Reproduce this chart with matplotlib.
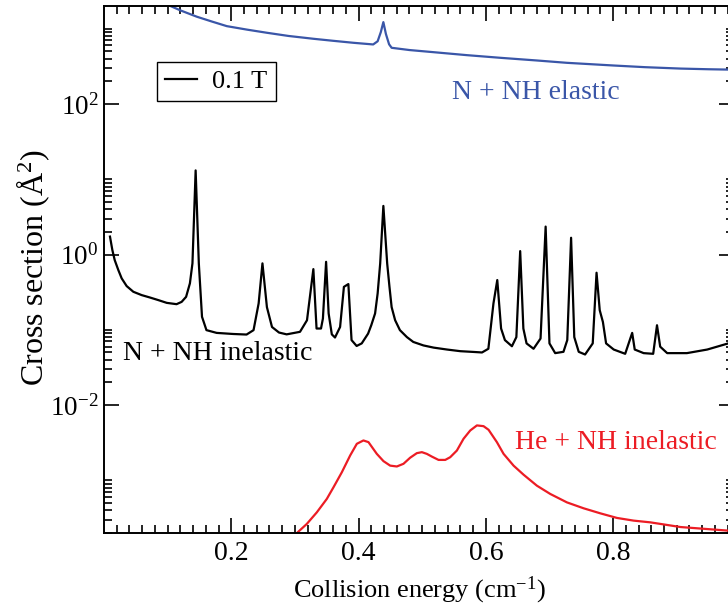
import numpy as np
import matplotlib
matplotlib.use("Agg")
import matplotlib.pyplot as plt
from matplotlib.ticker import FixedLocator, NullFormatter, FixedFormatter

plt.rcParams['font.family'] = ['Liberation Serif', 'DejaVu Serif']
plt.rcParams['mathtext.fontset'] = 'custom'
plt.rcParams['mathtext.rm'] = 'Liberation Serif'
plt.rcParams['mathtext.it'] = 'Liberation Serif:italic'

# ---------------- data ----------------
elastic_x = [0.080, 0.0986, 0.120, 0.146, 0.170, 0.193, 0.225, 0.256, 0.290, 0.329,
             0.360, 0.392, 0.423, 0.430, 0.435, 0.439, 0.443, 0.448, 0.452, 0.480,
             0.518, 0.570, 0.623, 0.680, 0.727, 0.801, 0.850, 0.906, 0.950, 0.981, 0.99]
elastic_y = [2420, 2100, 1750, 1440, 1240, 1080, 970, 882, 800, 734,
             690, 649, 617, 680, 900, 1222, 850, 620, 557, 520,
             487, 445, 410, 378, 352, 324, 308, 295, 289, 286, 284]

inel_x = [0.0094, 0.0131, 0.0168, 0.0225, 0.0278, 0.0356, 0.0461, 0.0592, 0.0719, 0.0854,
          0.0986, 0.114, 0.122, 0.129, 0.135, 0.139, 0.144, 0.149, 0.154, 0.161,
          0.177, 0.203, 0.224, 0.235, 0.243, 0.249, 0.256, 0.264, 0.275, 0.287,
          0.308, 0.319, 0.329, 0.334, 0.341, 0.344, 0.349, 0.353, 0.358, 0.363,
          0.371, 0.377, 0.384, 0.389, 0.397, 0.405, 0.415, 0.420, 0.426, 0.430,
          0.434, 0.439, 0.445, 0.4486, 0.452, 0.4575, 0.465, 0.476, 0.486, 0.502,
          0.518, 0.539, 0.560, 0.581, 0.594, 0.604, 0.612, 0.618, 0.624, 0.630,
          0.641, 0.648, 0.654, 0.659, 0.664, 0.675, 0.686, 0.694, 0.700, 0.709,
          0.722, 0.728, 0.734, 0.739, 0.746, 0.756, 0.768, 0.774, 0.779, 0.784,
          0.789, 0.801, 0.819, 0.830, 0.834, 0.848, 0.863, 0.869, 0.874, 0.885,
          0.916, 0.948, 0.981, 0.99]
inel_y = [1.73, 1.15, 0.845, 0.622, 0.482, 0.381, 0.320, 0.289, 0.269, 0.248,
          0.228, 0.219, 0.235, 0.274, 0.414, 0.764, 13.1, 0.764, 0.149, 0.099,
          0.091, 0.088, 0.0865, 0.099, 0.224, 0.763, 0.20, 0.109, 0.092, 0.087,
          0.094, 0.134, 0.64, 0.104, 0.104, 0.141, 0.80, 0.165, 0.087, 0.079,
          0.109, 0.372, 0.405, 0.073, 0.061, 0.066, 0.089, 0.115, 0.165, 0.304,
          0.76, 4.42, 0.76, 0.372, 0.20, 0.134, 0.099, 0.080, 0.069, 0.062,
          0.058, 0.0547, 0.052, 0.0508, 0.050, 0.056, 0.224, 0.458, 0.104, 0.073,
          0.0605, 0.080, 1.11, 0.104, 0.066, 0.056, 0.0766, 2.35, 0.066, 0.049,
          0.051, 0.073, 1.67, 0.080, 0.051, 0.047, 0.066, 0.573, 0.182, 0.127,
          0.066, 0.0547, 0.048, 0.091, 0.0547, 0.049, 0.048, 0.115, 0.0597, 0.049,
          0.049, 0.0547, 0.066, 0.070]

he_x = [0.3003, 0.3187, 0.3344, 0.3501, 0.3606, 0.3737, 0.3868, 0.3973, 0.4077, 0.4156,
        0.4287, 0.4392, 0.4497, 0.4602, 0.4706, 0.4811, 0.4916, 0.4995, 0.5073, 0.5152,
        0.5257, 0.5362, 0.5440, 0.5545, 0.5650, 0.5755, 0.5860, 0.5964, 0.6043, 0.6174,
        0.6279, 0.6436, 0.6593, 0.6803, 0.7013, 0.7275, 0.7536, 0.7799, 0.8061, 0.8323,
        0.8585, 0.906, 0.950, 0.981, 0.99]
he_y = [1.90e-4, 2.64e-4, 3.76e-4, 5.67e-4, 8.09e-4, 1.28e-3, 2.14e-3, 3.06e-3, 3.39e-3, 3.22e-3,
        2.25e-3, 1.80e-3, 1.57e-3, 1.53e-3, 1.66e-3, 2.00e-3, 2.30e-3, 2.37e-3, 2.25e-3, 2.07e-3,
        1.87e-3, 1.87e-3, 2.03e-3, 2.49e-3, 3.57e-3, 4.60e-3, 5.37e-3, 5.25e-3, 4.70e-3, 3.22e-3,
        2.25e-3, 1.57e-3, 1.19e-3, 8.5e-4, 6.6e-4, 5.1e-4, 4.26e-4, 3.65e-4, 3.17e-4, 2.92e-4,
        2.77e-4, 2.40e-4, 2.25e-4, 2.15e-4, 2.12e-4]

xticks = [0.2, 0.4, 0.6, 0.8]
xticklabels = ['0.2', '0.4', '0.6', '0.8']
yticks = [1e-2, 1e0, 1e2]
yticklabels = [r'$\mathregular{10^{-2}}$', r'$\mathregular{10^{0}}$', r'$\mathregular{10^{2}}$']

blue = '#3a56a8'
red = '#ec1c24'

# ---------------- figure ----------------
W, H = 728, 607
fig = plt.figure(figsize=(W / 100, H / 100), dpi=100)
ax_l, ax_r, ax_t, ax_b = 104, 734, 6, 533
ax = fig.add_axes([ax_l / W, 1 - ax_b / H, (ax_r - ax_l) / W, (ax_b - ax_t) / H])

ax.plot(elastic_x, elastic_y, color=blue, lw=1.6)
ax.plot(inel_x, inel_y, color='black', lw=1.6, label='0.1 T')
ax.plot(he_x, he_y, color=red, lw=1.6)

ax.set_yscale('log')
ax.set_xlim(0, 0.99)
ax.set_ylim(2e-4, 2e3)

ax.xaxis.set_major_locator(FixedLocator(xticks))
ax.xaxis.set_major_formatter(FixedFormatter(xticklabels))
ax.xaxis.set_minor_locator(FixedLocator(np.arange(0.02, 0.99, 0.02)))
ax.yaxis.set_major_locator(FixedLocator(yticks))
ax.yaxis.set_major_formatter(FixedFormatter(yticklabels))
yminor = [m * 10.0 ** k for k in (-4, -2, 0, 2) for m in range(2, 11)]
ax.yaxis.set_minor_locator(FixedLocator(yminor))
ax.yaxis.set_minor_formatter(NullFormatter())

ax.tick_params(which='both', direction='in', top=True, right=True, width=1.2, color='black')
ax.tick_params(which='major', length=10.5)
ax.tick_params(which='minor', length=5.5)
ax.tick_params(axis='x', which='major', labelsize=20, pad=6)
ax.tick_params(axis='y', which='major', labelsize=19.5, pad=4)
for s in ax.spines.values():
    s.set_linewidth(1.4)

fig.text(419 / W, 1 - 597 / H, r'Collision energy (cm$^{\mathregular{-1}}$)', ha='center',
         va='baseline', fontsize=19)
fig.text(33 / W, 1 - 268 / H, r'Cross section (Å$^{\mathregular{2}}$)', ha='center', va='center',
         rotation=90, fontsize=23)

ax.text(0.678, 141, 'N + NH elastic', color=blue, fontsize=20, ha='center', va='center')
ax.text(0.030, 0.0484, 'N + NH inelastic', color='black', fontsize=20, ha='left', va='center')
ax.text(0.646, 3.18e-3, 'He + NH inelastic', color=red, fontsize=20, ha='left', va='center')

leg = ax.legend(loc='upper left', bbox_to_anchor=((157 - ax_l) / (ax_r - ax_l), 1 - (62 - ax_t) / (ax_b - ax_t)),
                borderaxespad=0, fancybox=False, edgecolor='black', framealpha=1,
                fontsize=19, handlelength=1.2, handletextpad=0.6, borderpad=0.3)
leg.get_frame().set_linewidth(1.0)

fig.savefig('out.png', dpi=100)
